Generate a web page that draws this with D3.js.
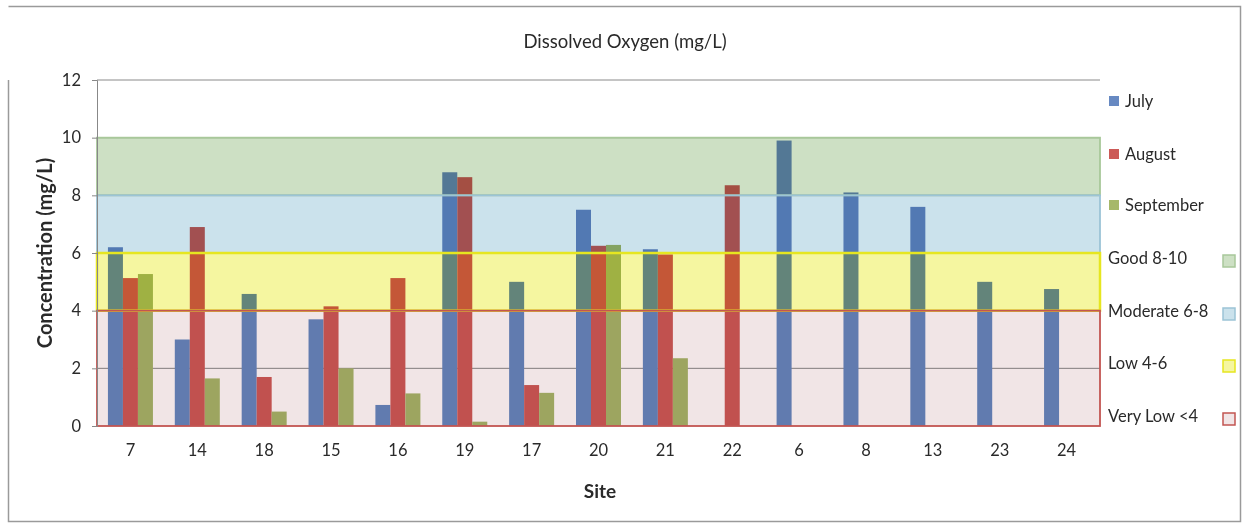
<!DOCTYPE html>
<html>
<head>
<meta charset="utf-8">
<script src="https://cdn.jsdelivr.net/npm/d3@7"></script>
<style>
  body { margin: 0; background: #fff; }
  svg text { font-family: Lato, "Open Sans", sans-serif; fill: #2a2a2a; }
</style>
</head>
<body>
<svg id="chart" width="1242" height="527"></svg>
<script>
// sites in the order they were plotted
const sites = ["7", "14", "18", "15", "16", "19", "17", "20", "21", "22", "6", "8", "13", "23", "24"];
const july = [6.2, 3.0, 4.58, 3.7, 0.73, 8.8, 5.0, 7.5, 6.13, 0, 9.9, 8.1, 7.6, 5.0, 4.75];
const august = [5.13, 6.9, 1.7, 4.15, 5.13, 8.63, 1.42, 6.25, 5.95, 8.35, 0, 0, 0, 0, 0];
const september = [5.27, 1.65, 0.5, 2.0, 1.13, 0.15, 1.15, 6.28, 2.35, 0, 0, 0, 0, 0, 0];
const months = ["July", "August", "September"];
const monthColors = ["#6789c2", "#cc5a57", "#a6b86a"];
const yTicks = [0, 2, 4, 6, 8, 10, 12];

// quality bands drawn over the bars
const bandNames = ["Good 8-10", "Moderate 6-8", "Low 4-6", "Very Low <4"];
const bandLow = [8, 6, 4, 0];
const bandHigh = [10, 8, 6, 4];
const bandFill = ["#cde0c4", "#cbe2ec", "#f5f6a0", "#f1e5e6"];
const bandStroke = ["#a8c89a", "#9cc4d6", "#e6e620", "#c25552"];

const svg = d3.select("#chart");
const margin = {left: 97, right: 142, top: 80, bottom: 101};
const width = 1242 - margin.left - margin.right;
const height = 527 - margin.top - margin.bottom;

// outer frame (left edge only starts below the title, like the scan)
let frame = svg.append("path")
    .attr("d", "M8.5,80 L8.5,521.5 L1240.5,521.5 L1240.5,6.5 L8.5,6.5")
    .attr("fill", "none")
    .attr("stroke", "#9a9a9a")
    .attr("stroke-width", 1.5);

let g = svg.append("g").attr("transform", `translate(${margin.left},${margin.top})`);

let x = d3.scaleBand().domain(sites).range([0, width]).paddingInner(0).paddingOuter(0);
let x1 = d3.scaleBand().domain(months).range([x.bandwidth() / 2 - 22.5, x.bandwidth() / 2 + 22.5]);
let y = d3.scaleLinear().domain([0, 12]).range([height, 0]);

// gridlines
g.selectAll(".grid")
    .data(yTicks.filter(d => d > 0))
    .enter()
    .append("line")
    .attr("class", "grid")
    .attr("x1", 0).attr("x2", width)
    .attr("y1", d => y(d)).attr("y2", d => y(d))
    .attr("stroke", "#8a8a8a")
    .attr("stroke-width", 1);

// bars
let data = [];
sites.forEach((s, i) => {
    [july, august, september].forEach((arr, j) => {
        if (arr[i] > 0) data.push({site: s, month: months[j], value: arr[i], color: monthColors[j]});
    });
});
g.selectAll(".bar")
    .data(data)
    .enter()
    .append("rect")
    .attr("class", "bar")
    .attr("x", d => x(d.site) + x1(d.month))
    .attr("y", d => y(d.value))
    .attr("width", x1.bandwidth())
    .attr("height", d => height - y(d.value))
    .attr("fill", d => d.color);

// bands, multiplied over the bars
let bands = bandNames.map((n, i) => ({name: n, lo: bandLow[i], hi: bandHigh[i], fill: bandFill[i], stroke: bandStroke[i]}));
g.selectAll(".band")
    .data(bands)
    .enter()
    .append("rect")
    .attr("class", "band")
    .attr("x", 0)
    .attr("y", d => y(d.hi))
    .attr("width", width)
    .attr("height", d => y(d.lo) - y(d.hi))
    .attr("fill", d => d.fill)
    .style("mix-blend-mode", "multiply");
g.selectAll(".bandEdge")
    .data(bands)
    .enter()
    .append("rect")
    .attr("class", "bandEdge")
    .attr("x", 0)
    .attr("y", d => y(d.hi))
    .attr("width", width)
    .attr("height", d => y(d.lo) - y(d.hi))
    .attr("fill", "none")
    .attr("stroke", d => d.stroke)
    .attr("stroke-width", (d, i) => i == 2 ? 2.5 : 1.8);

// axes
let yAxis = g.append("g")
    .call(d3.axisLeft(y).tickValues(yTicks).tickSize(5).tickPadding(11));
yAxis.select(".domain").attr("stroke", "#888");
yAxis.selectAll(".tick line").attr("stroke", "#888");
yAxis.selectAll(".tick text").style("font-size", "16.5px").attr("fill", "#2a2a2a");

let xAxis = g.append("g")
    .attr("transform", `translate(0,${height})`)
    .call(d3.axisBottom(x).tickSize(0).tickPadding(18));
xAxis.select(".domain").remove();
xAxis.selectAll(".tick text").style("font-size", "16.5px").attr("fill", "#2a2a2a");

// titles
svg.append("text")
    .attr("x", 625).attr("y", 48)
    .attr("text-anchor", "middle")
    .style("font-size", "18.5px")
    .text("Dissolved Oxygen (mg/L)");
svg.append("text")
    .attr("transform", `translate(52,${margin.top + height / 2}) rotate(-90)`)
    .attr("text-anchor", "middle")
    .style("font-size", "20px")
    .style("font-weight", "bold")
    .text("Concentration (mg/L)");
svg.append("text")
    .attr("x", 600).attr("y", 498)
    .attr("text-anchor", "middle")
    .style("font-size", "19px")
    .style("font-weight", "bold")
    .text("Site");

// legend
let legend = svg.append("g");
const legendY = [101, 154, 205, 258, 311, 363, 416];
months.forEach((m, i) => {
    legend.append("rect")
        .attr("x", 1109).attr("y", legendY[i] - 5)
        .attr("width", 10).attr("height", 10)
        .attr("fill", monthColors[i]);
    legend.append("text")
        .attr("x", 1125).attr("y", legendY[i] + 6)
        .style("font-size", "16.5px")
        .text(m);
});
bands.forEach((b, i) => {
    legend.append("text")
        .attr("x", 1108).attr("y", legendY[i + 3] + 6)
        .style("font-size", "16.5px")
        .text(b.name);
    legend.append("rect")
        .attr("x", 1223).attr("y", legendY[i + 3] - 3)
        .attr("width", 12).attr("height", 12)
        .attr("fill", b.fill)
        .attr("stroke", b.stroke)
        .attr("stroke-width", 1.5);
});
</script>
</body>
</html>
